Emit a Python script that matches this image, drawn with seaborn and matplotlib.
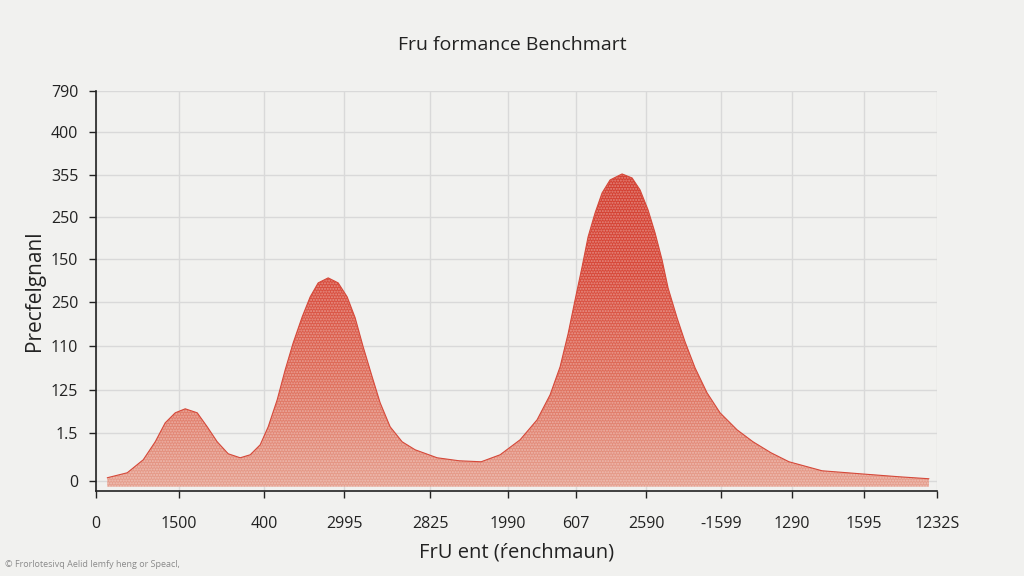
import numpy as np
import pandas as pd
import matplotlib
matplotlib.use("Agg")
import matplotlib.pyplot as plt
import seaborn as sns

# ─────────────────────────────────────────────
# DATA
# ─────────────────────────────────────────────
x_vals = [11, 31, 47, 59, 69, 79, 89, 101, 111, 121, 132, 144, 154, 164,
          172, 181, 189, 197, 206, 214, 222, 232, 242, 251, 259, 267, 276,
          284, 294, 306, 319, 341, 363, 385, 404, 424, 441, 454, 464, 472,
          479, 486, 492, 499, 506, 514, 526, 536, 544, 552, 559, 566, 572,
          581, 589, 599, 611, 624, 641, 657, 675, 693, 726, 764, 803, 833]
y_vals = [3, 8, 21, 39, 58, 68, 72, 68, 54, 39, 27, 23, 26, 36,
          54, 81, 111, 138, 164, 184, 198, 203, 198, 184, 163, 134, 104,
          78, 54, 39, 31, 23, 20, 19, 26, 41, 61, 86, 114, 147,
          181, 214, 244, 268, 288, 301, 307, 303, 291, 271, 248, 221, 193,
          163, 139, 113, 88, 68, 51, 39, 28, 19, 10, 7, 4, 2]

x_tick_pos = [0, 83, 168, 248, 334, 412, 480, 550, 625, 696, 768, 841]
x_tick_labels = ["0", "1500", "400", "2995", "2825", "1990", "607",
                 "2590", "-1599", "1290", "1595", "1232S"]
y_tick_pos = [0, 48, 91, 135, 179, 222, 264, 306, 349, 390]
y_tick_labels = ["0", "1.5", "125", "110", "250", "150", "250",
                 "355", "400", "790"]

title = "Fru formance Benchmart"
x_label = "FrU ent (ŕenchmaun)"
y_label = "Precfelgnanl"
footnote = "© Frorlotesivq Aelid Iemfy heng or Speacl,"

df = pd.DataFrame({"x": x_vals, "y": y_vals})

# ─────────────────────────────────────────────
# STYLE
# ─────────────────────────────────────────────
sns.set_theme(style="whitegrid")
plt.rcParams["font.family"] = ["Open Sans", "DejaVu Sans"]
bg = "#f1f1ef"

fig = plt.figure(figsize=(10.24, 5.76), dpi=100, facecolor=bg)
ax = fig.add_axes([0.094, 0.148, 0.821, 0.694])
ax.set_facecolor(bg)

# ─────────────────────────────────────────────
# FILLED CURVE with a vertical gradient
# ─────────────────────────────────────────────
base = -6
sns.lineplot(data=df, x="x", y="y", ax=ax, color="#d5493a", lw=0.8,
             zorder=3, solid_joinstyle="round")
poly = ax.fill_between(df["x"], df["y"], base, facecolor="none",
                       edgecolor="none", zorder=2)
clip = poly.get_paths()[0]

grad = np.linspace(0, 1, 256).reshape(-1, 1)
cmap = matplotlib.colors.LinearSegmentedColormap.from_list(
    "redfade", ["#e6a08f", "#df705d", "#d84a3b", "#d33f31"])
img = ax.imshow(grad, cmap=cmap, aspect="auto", origin="lower",
                extent=[0, 841, base, 310], zorder=2)
img.set_clip_path(clip, transform=ax.transData)

# speckle texture on top of the gradient
ax.fill_between(df["x"], df["y"], base, facecolor="none",
                edgecolor=(1, 1, 1, 0.35), hatch="......", lw=0,
                zorder=2.5)

# ─────────────────────────────────────────────
# AXES, TICKS, GRID
# ─────────────────────────────────────────────
ax.set_xlim(0, 841)
ax.set_ylim(-10, 390)
ax.set_xticks(x_tick_pos)
ax.set_xticklabels(x_tick_labels)
ax.set_yticks(y_tick_pos)
ax.set_yticklabels(y_tick_labels)
ax.tick_params(axis="both", labelsize=11.5, colors="#222222", length=5,
               width=1, direction="out", pad=8, left=True, bottom=True)
ax.tick_params(axis="x", pad=13)

ax.grid(True, color="#d9d9d9", lw=1)
for side in ["top", "right"]:
    ax.spines[side].set_visible(False)
for side in ["left", "bottom"]:
    ax.spines[side].set_visible(True)
    ax.spines[side].set_color("#222222")
    ax.spines[side].set_linewidth(1.2)

ax.set_xlabel(x_label, fontsize=14.5, color="#222222", labelpad=8)
ax.set_ylabel(y_label, fontsize=15, color="#222222", labelpad=4)
fig.text(0.5, 0.922, title, ha="center", va="center", fontsize=14,
         color="#222222")
fig.text(0.005, 0.012, footnote, ha="left", va="bottom", fontsize=6.5,
         color="#8a8a8a")

fig.savefig("out.png", dpi=100, facecolor=bg)
